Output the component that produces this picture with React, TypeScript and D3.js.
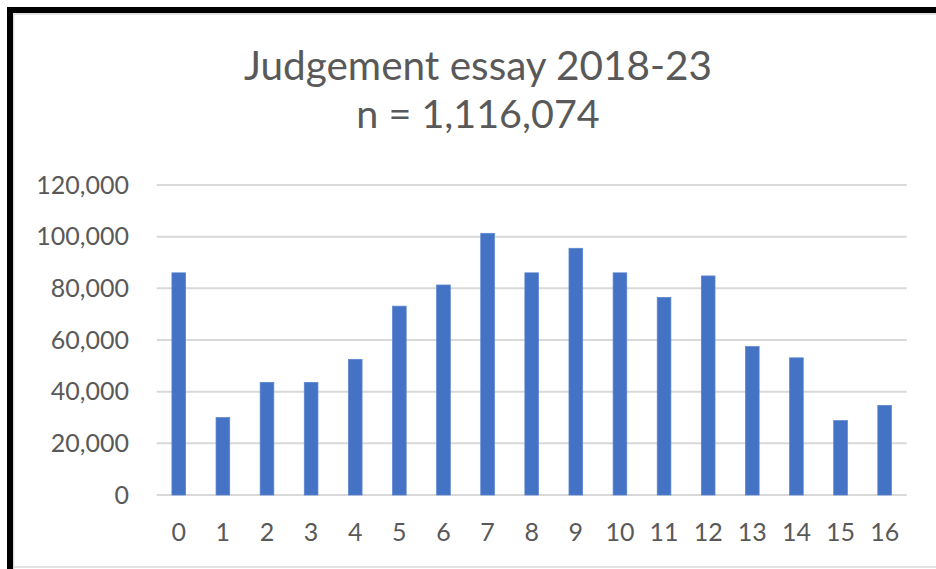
import React from "react";
import * as d3 from "d3";

const categories: string[] = ["0","1","2","3","4","5","6","7","8","9","10","11","12","13","14","15","16"];
const counts: number[] = [86000, 30000, 43600, 43600, 52500, 73100, 81300, 101300, 86000, 95500, 86000, 76500, 84800, 57500, 53100, 28800, 34700];
const yTicks: number[] = [0, 20000, 40000, 60000, 80000, 100000, 120000];
const titleLines: string[] = ["Judgement essay 2018-23", "n = 1,116,074"];

const W = 936;
const H = 569;
const plotLeft = 156.7;
const plotRight = 906.7;
const plotTop = 185;
const plotBottom = 495;
const FONT = "Lato, 'Open Sans', sans-serif";
const TEXT = "#595959";

export default function App() {
  const x = d3
    .scaleBand<string>()
    .domain(categories)
    .range([plotLeft, plotRight])
    .paddingInner(0.69)
    .paddingOuter(0.345);
  const y = d3.scaleLinear().domain([0, 120000]).range([plotBottom, plotTop]);
  const fmt = d3.format(",");

  return (
    <svg
      width={W}
      height={H}
      style={{ position: "absolute", left: 0, top: 0, background: "#fff" }}
    >
      <rect x={0} y={0} width={W} height={H} fill="#fff" />
      {/* frame */}
      <line x1={13} x2={W} y1={14} y2={14} stroke="#d9d9d9" strokeWidth={1.5} />
      <line x1={13.5} x2={13.5} y1={14} y2={H} stroke="#d9d9d9" strokeWidth={1.5} />
      <line x1={13} x2={W} y1={567} y2={567} stroke="#d9d9d9" strokeWidth={1.5} />
      <rect x={7} y={7} width={W - 7} height={6} fill="#000" />
      <rect x={7} y={7} width={6} height={H - 7} fill="#000" />

      {/* title */}
      <text x={478} y={80} textAnchor="middle" fontFamily={FONT} fontSize={40.5} fill={TEXT}>
        {titleLines[0]}
      </text>
      <text x={478} y={128} textAnchor="middle" fontFamily={FONT} fontSize={39.5} fill={TEXT}>
        {titleLines[1]}
      </text>

      {/* gridlines and y labels */}
      {yTicks.map((t) => (
        <g key={t}>
          <line
            x1={plotLeft}
            x2={plotRight}
            y1={y(t)}
            y2={y(t)}
            stroke="#d9d9d9"
            strokeWidth={2}
          />
          <text
            x={129}
            y={y(t) + 8.5}
            textAnchor="end"
            fontFamily={FONT}
            fontSize={25}
            fill={TEXT}
          >
            {fmt(t)}
          </text>
        </g>
      ))}

      {/* bars */}
      {categories.map((c, i) => (
        <rect
          key={c}
          x={x(c)!}
          y={y(counts[i])}
          width={x.bandwidth()}
          height={y(0) - y(counts[i])}
          fill="#4472c4"
          stroke="#5a86d0"
          strokeWidth={0.75}
        />
      ))}

      {/* x labels */}
      {categories.map((c) => (
        <text
          key={c}
          x={x(c)! + x.bandwidth() / 2}
          y={541}
          textAnchor="middle"
          fontFamily={FONT}
          fontSize={25}
          fill={TEXT}
        >
          {c}
        </text>
      ))}
    </svg>
  );
}
